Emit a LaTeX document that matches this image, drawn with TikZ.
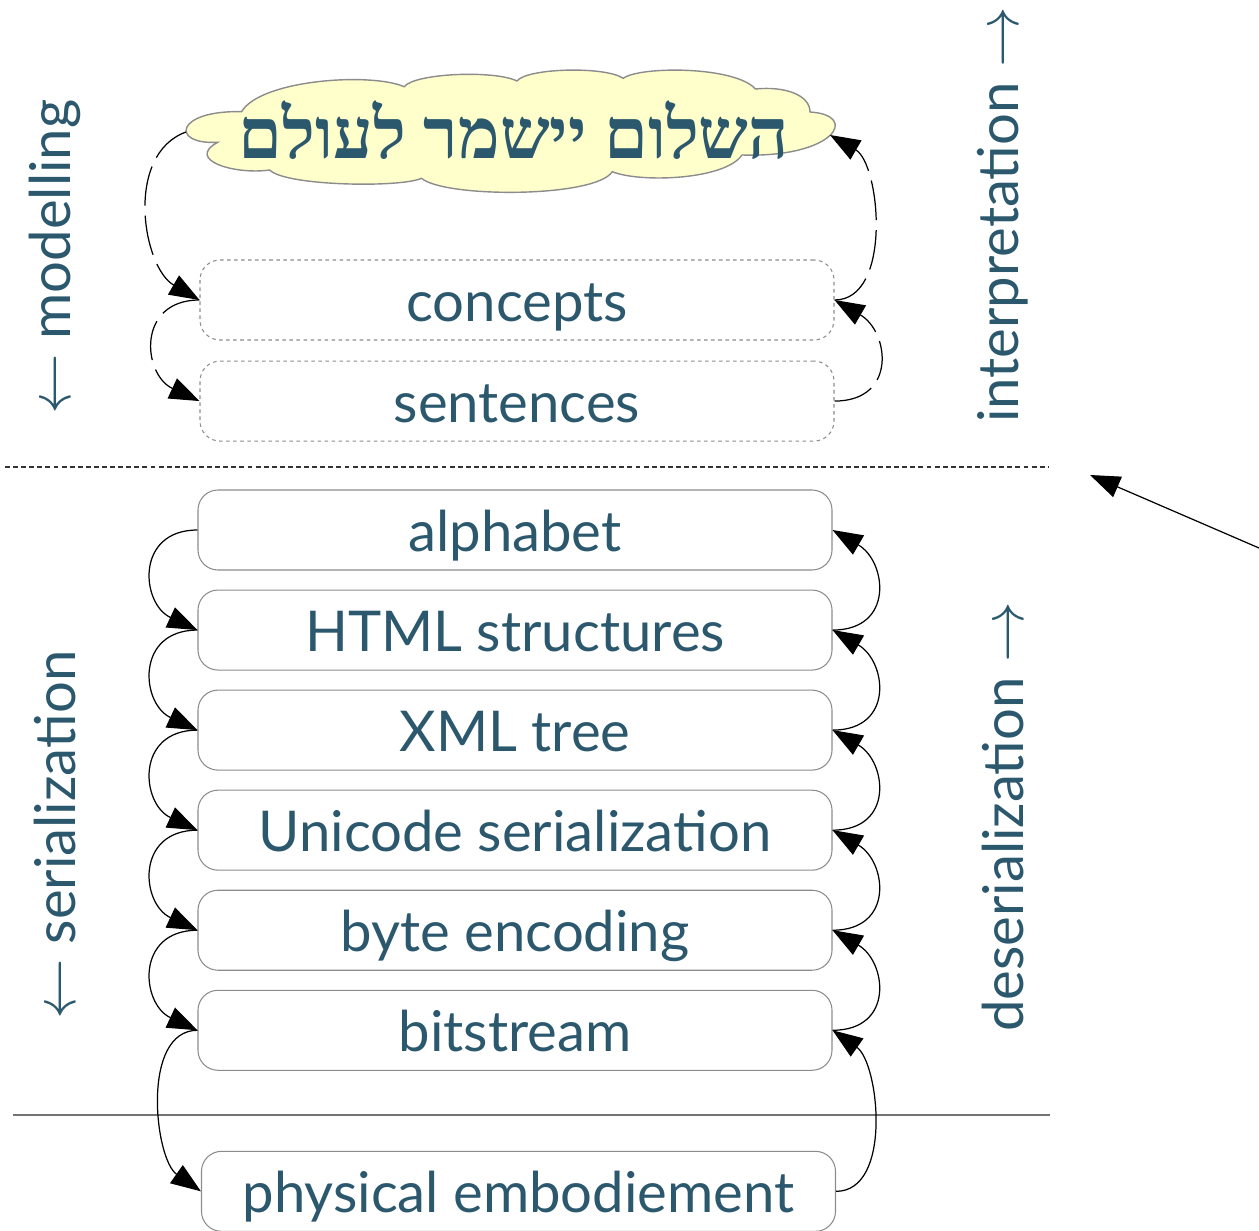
\documentclass[tikz,border=0pt]{standalone}
\usepackage{fontspec}
\setmainfont{Lato}
\newfontfamily\hebfont[Script=Hebrew]{Liberation Serif}
\TeXXeTstate=1
\usetikzlibrary{positioning,arrows.meta}
\definecolor{ink}{RGB}{44,88,110}
\definecolor{cloudfill}{RGB}{255,255,204}

\begin{document}
\begin{tikzpicture}[
        layer/.style={
                rectangle,
                rounded corners=2mm,
                draw=black!45,
                line width=0.3pt,
                minimum width=6.34cm,
                minimum height=0.8cm,
                inner ysep=0.05cm,
                text height=0.5cm,
                text depth=0.08cm,
                font=\fontsize{16}{19}\selectfont,
                text=ink
            },
        mental/.style={
                layer,
                dash pattern=on 1pt off 1pt
            },
        thought/.style={
                draw=black!45,
                fill=cloudfill,
                line width=0.4pt
            },
        side/.style = {rotate=90, font=\fontsize{16}{19}\selectfont, text=ink},
        >= {Triangle[length=3mm,width=2.2mm]},
        link/.style = {->, line width=0.35pt},
        loose/.style = {link, dash pattern=on 4mm off 1mm}
    ]
    \useasboundingbox (0,0) rectangle (12.59,-12.30);

    % the cloud
    \filldraw[thought] (2.177,-1.423)
        .. controls (1.70,-1.45) and (1.75,-1.10) .. (2.416,-1.117)
        .. controls (2.60,-0.80) and (3.70,-0.72) .. (4.042,-0.867)
        .. controls (4.15,-0.73) and (4.95,-0.70) .. (5.169,-0.810)
        .. controls (5.27,-0.68) and (6.05,-0.66) .. (6.232,-0.783)
        .. controls (6.40,-0.66) and (7.35,-0.66) .. (7.554,-0.890)
        .. controls (7.85,-0.86) and (8.10,-0.95) .. (8.10,-1.12)
        .. controls (8.60,-1.15) and (8.35,-1.58) .. (7.42,-1.55)
        .. controls (7.25,-1.80) and (6.40,-1.83) .. (6.123,-1.717)
        .. controls (5.95,-1.98) and (4.45,-1.98) .. (4.215,-1.783)
        .. controls (4.00,-1.88) and (2.85,-1.86) .. (2.697,-1.700)
        .. controls (2.35,-1.75) and (1.85,-1.60) .. (2.177,-1.423) -- cycle;
    \coordinate (worldwest) at (1.86,-1.32);
    \coordinate (worldeast) at (8.30,-1.35);
    \node[font=\hebfont\bfseries\fontsize{20}{24}\selectfont, text=ink] (peace) at (5.14,-1.30) {\beginR השלום יישמר לעולם\endR};

    \node[mental] (concepts)  at (5.17,-3.00)             {concepts};
    \node[mental] (sentences) [below=0.2cm of concepts]   {sentences};
    \node[layer] (alphabet)   at (5.15,-5.30)             {alphabet};
    \node[layer] (html)       [below=0.19cm of alphabet]  {HTML structures};
    \node[layer] (xml)        [below=0.19cm of html]      {XML tree};
    \node[layer] (unicode)    [below=0.19cm of xml]       {Unicode serialization};
    \node[layer] (bytes)      [below=0.19cm of unicode]   {byte encoding};
    \node[layer] (bits)       [below=0.19cm of bytes]     {bitstream};
    \node[layer] (physical)   [below=0.8cm of bits, xshift=0.035cm] {physical embodiement};

    \node[side] (modelling)   at (0.55,-2.57)  {$\leftarrow$ modelling};
    \node[side] (serial)      at (0.55,-8.35)  {$\leftarrow$ serialization};
    \node[side] (interpret)   at (10.03,-2.15) {interpretation $\rightarrow$};
    \node[side] (deserial)    at (10.03,-8.17) {deserialization $\rightarrow$};

    \draw[black!80, dash pattern=on 1.4pt off 0.9pt, line width=0.4pt] (0.05,-4.67) -- (10.48,-4.67);
    \draw[black!55, line width=0.5pt] (0.13,-11.15) -- (10.50,-11.15);

    % going down
    \path[loose] (worldwest) edge[out=200,in=150,looseness=1] (concepts.west);
    \path[loose] (concepts.west) edge[out=180,in=155,looseness=1.6] (sentences.west);
    \path[link] (alphabet.west) edge[out=180,in=155,looseness=1.6] (html.west);
    \path[link] (html.west) edge[out=180,in=155,looseness=1.6] (xml.west);
    \path[link] (xml.west) edge[out=180,in=155,looseness=1.6] (unicode.west);
    \path[link] (unicode.west) edge[out=180,in=155,looseness=1.6] (bytes.west);
    \path[link] (bytes.west) edge[out=180,in=155,looseness=1.6] (bits.west);
    \path[link] (bits.west) edge[out=180,in=145,looseness=0.9] (physical.west);

    % going up
    \path[loose] (sentences.east) edge[out=0,in=-30,looseness=1.6] (concepts.east);
    \path[loose] (concepts.east) edge[out=0,in=-30,looseness=0.9] (worldeast);
    \path[link] (html.east) edge[out=0,in=-30,looseness=1.6] (alphabet.east);
    \path[link] (xml.east) edge[out=0,in=-30,looseness=1.6] (html.east);
    \path[link] (unicode.east) edge[out=0,in=-30,looseness=1.6] (xml.east);
    \path[link] (bytes.east) edge[out=0,in=-30,looseness=1.6] (unicode.east);
    \path[link] (bits.east) edge[out=0,in=-30,looseness=1.6] (bytes.east);
    \path[link] (physical.east) edge[out=0,in=-35,looseness=0.9] (bits.east);

    \coordinate (outside) at (12.59,-5.48);
    \coordinate (border)  at (10.90,-4.75);
    \path[link] (outside) edge (border);
\end{tikzpicture}
\end{document}
